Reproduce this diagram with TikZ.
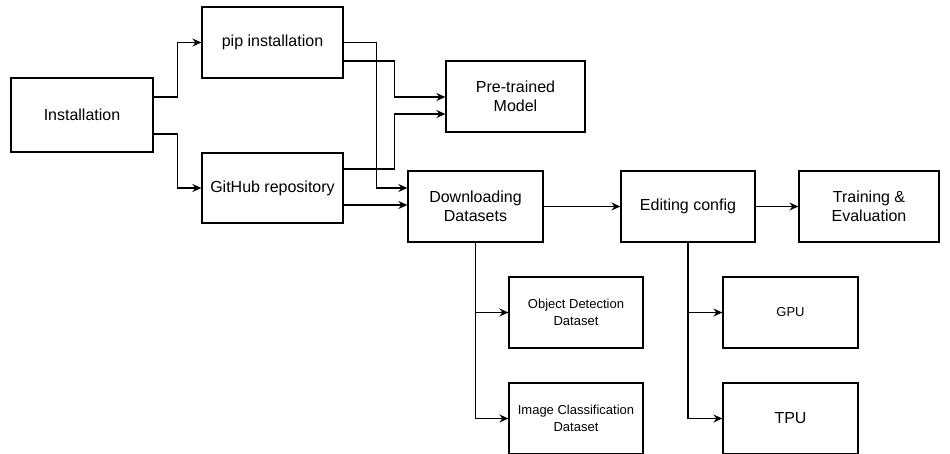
\documentclass[tikz,border=0pt]{standalone}
\usepackage{fontspec}
\setmainfont{Liberation Sans}
\usetikzlibrary{arrows.meta}
\begin{document}
\begin{tikzpicture}[x=1pt,y=-1pt,
  box/.style={draw,line width=1.3pt,rectangle,inner sep=0pt,align=center,
    font=\fontsize{16}{18.5}\selectfont,text=black},
  small/.style={font=\fontsize{13}{16.5}\selectfont},
  arr/.style={line width=1.3pt,-{Stealth[length=9pt,width=8pt,inset=3pt]}},
  ln/.style={line width=1.3pt}]
\clip (0,0) rectangle (950,453);
\fill[white] (0,0) rectangle (950,453);
\node[box,minimum width=142pt,minimum height=74pt] (inst) at (82,115) {Installation};
\node[box,minimum width=141pt,minimum height=71pt] (pip) at (272.5,42.5) {pip installation};
\node[box,minimum width=141pt,minimum height=70pt] (gh) at (272.5,188) {GitHub repository};
\node[box,minimum width=139pt,minimum height=71pt] (pre) at (515.5,96.5) {Pre-trained\\Model};
\node[box,minimum width=135pt,minimum height=71pt] (dl) at (475.5,206.5) {Downloading\\Datasets};
\node[box,minimum width=134pt,minimum height=71pt] (ed) at (688,206.5) {Editing config};
\node[box,minimum width=140pt,minimum height=71pt] (tr) at (869,206.5) {Training \&\\Evaluation};
\node[box,small,minimum width=134pt,minimum height=71pt] (od) at (576,312.5) {Object Detection\\Dataset};
\node[box,small,minimum width=134pt,minimum height=71pt] (ic) at (576,418.5) {Image Classification\\Dataset};
\node[box,small,minimum width=135pt,minimum height=71pt] (gpu) at (790.5,312.5) {GPU};
\node[box,minimum width=135pt,minimum height=71pt] (tpu) at (790.5,418.5) {TPU};

\draw[arr] ([shift={(0,-18)}]inst.east) -- ++(24,0) |- (pip.west);
\draw[arr] ([shift={(0,19)}]inst.east) -- ++(24,0) |- (gh.west);
\draw[arr] ([shift={(0,18.5)}]pip.east) -- ++(51,0) |- ([shift={(0,0.5)}]pre.west);
\draw[arr] ([shift={(0,-19)}]gh.east) -- ++(51,0) |- ([shift={(0,17.5)}]pre.west);
\draw[arr] (pip.east) -- ++(33,0) |- ([shift={(0,-18.5)}]dl.west);
\draw[arr] ([shift={(0,17)}]gh.east) coordinate (g2) -- (g2 -| dl.west);
\draw[arr] (dl.east) -- (ed.west);
\draw[arr] (ed.east) -- (tr.west);
\draw[arr] (dl.south) |- (od.west);
\draw[arr] (dl.south) |- (ic.west);
\draw[arr] (ed.south) |- (gpu.west);
\draw[arr] (ed.south) |- (tpu.west);
\end{tikzpicture}
\end{document}
